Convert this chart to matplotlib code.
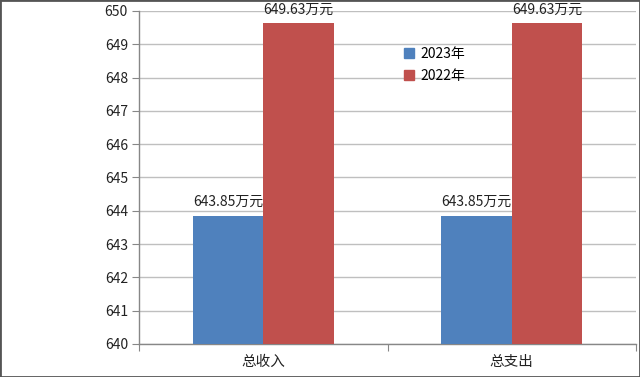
import matplotlib
matplotlib.use("Agg")
import matplotlib.pyplot as plt
import numpy as np
from matplotlib.patches import Rectangle
from matplotlib.lines import Line2D

plt.rcParams['font.family'] = ['Noto Sans CJK SC', 'DejaVu Sans']

categories = ['总收入', '总支出']
series_names = ['2023年', '2022年']
values_2023 = [643.85, 643.85]
values_2022 = [649.63, 649.63]
labels_2023 = ['643.85万元', '643.85万元']
labels_2022 = ['649.63万元', '649.63万元']
yticks = [640, 641, 642, 643, 644, 645, 646, 647, 648, 649, 650]

blue = '#4f81bd'
red = '#c0504d'
grid = '#bfbfbf'
axis_c = '#878787'

fig = plt.figure(figsize=(6.4, 3.77), dpi=100)
ax = fig.add_axes([139/640, 1-344/377, (636-139)/640, (344-11)/377])

x = np.arange(len(categories))
w = 0.283
b1 = ax.bar(x - w/2, np.array(values_2023) - 640, w, bottom=640, color=blue, zorder=3)
b2 = ax.bar(x + w/2, np.array(values_2022) - 640, w, bottom=640, color=red, zorder=3)

for rect, lab in zip(b1, labels_2023):
    ax.text(rect.get_x() + rect.get_width()/2, rect.get_y() + rect.get_height() + 0.2, lab,
            ha='center', va='bottom', fontsize=10, color='#222222')
for rect, lab in zip(b2, labels_2022):
    ax.text(rect.get_x() + rect.get_width()/2, rect.get_y() + rect.get_height() + 0.2, lab,
            ha='center', va='bottom', fontsize=10, color='#222222')

ax.set_ylim(640, 650)
ax.set_xlim(-0.5, 1.5)
ax.set_yticks(yticks)
ax.set_yticklabels([str(t) for t in yticks], fontsize=10, color='#222222')
ax.yaxis.grid(True, color=grid, linewidth=1, zorder=0)
ax.set_axisbelow(True)

ax.set_xticks([-0.5, 0.5, 1.5], minor=False)
ax.set_xticklabels(['', '', ''])
ax.set_xticks(x, minor=True)
ax.set_xticklabels(categories, minor=True, fontsize=10.5, color='#222222')
ax.tick_params(axis='x', which='major', length=5, color=axis_c, direction='out')
ax.tick_params(axis='x', which='minor', length=0, pad=8)
ax.tick_params(axis='y', length=5, color=axis_c, direction='out', pad=3)

for s in ['top', 'right']:
    ax.spines[s].set_visible(False)
for s in ['left', 'bottom']:
    ax.spines[s].set_color(axis_c)
    ax.spines[s].set_linewidth(1)

handles = [Line2D([], [], marker='s', linestyle='none', markersize=7, markerfacecolor=c, markeredgecolor=c)
           for c in (blue, red)]
fig.legend(handles, series_names, loc='upper left', bbox_to_anchor=(394/640, 1-40/377),
           frameon=False, fontsize=10, handletextpad=0.2, labelspacing=0.55, handlelength=1.2,
           borderpad=0)

fig.patches.append(Rectangle((0.0, 0.0), 1.0, 1.0, transform=fig.transFigure, fill=False,
                             edgecolor='#555555', linewidth=2))

fig.savefig('out.png', dpi=100)
